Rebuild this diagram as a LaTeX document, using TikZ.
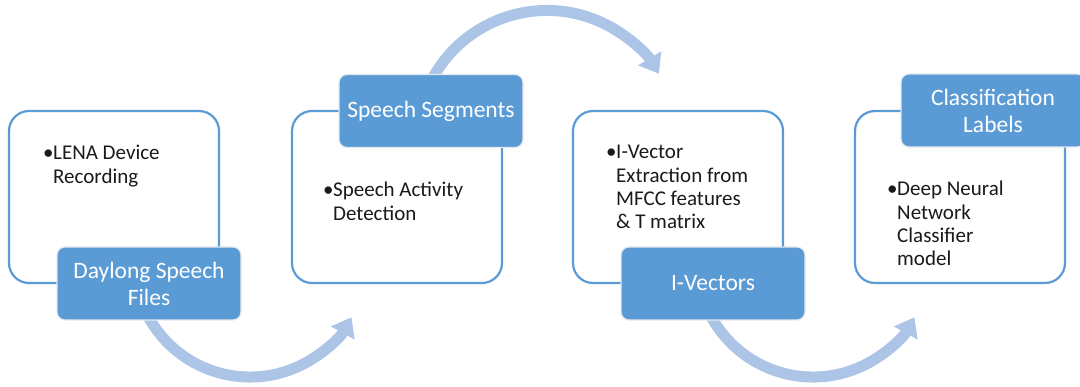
\documentclass[tikz,border=0pt]{standalone}
\usepackage{fontspec}
\setmainfont{Carlito}
\usetikzlibrary{arrows.meta}
\definecolor{boxblue}{RGB}{91,155,213}
\definecolor{arrowblue}{RGB}{172,197,230}
\definecolor{labelrim}{RGB}{228,232,238}
\definecolor{bodyink}{RGB}{26,26,26}
\tikzset{
  stagebox/.style={draw=boxblue, line width=2.2pt, fill=white, rounded corners=20pt,
    minimum width=210pt, minimum height=172pt, anchor=north west, inner sep=0pt, outer sep=0pt},
  tagbox/.style={draw=labelrim, line width=1.2pt, fill=boxblue, rounded corners=8pt,
    minimum width=184pt, minimum height=73pt, inner sep=0pt, outer sep=0pt, text=white,
    align=center, font=\fontsize{23.5}{27}\selectfont},
  bodytext/.style={anchor=base west, align=left, inner sep=0pt, text=bodyink,
    font=\fontsize{21}{23.3}\selectfont},
  flow/.style={draw=arrowblue, line width=11pt, -{Triangle[width=26pt,length=18pt]}},
}
\newcommand\bl{\makebox[10pt][l]{•}}
\newcommand\ind{\hspace*{10pt}}
\begin{document}
\begin{tikzpicture}[x=1pt,y=-1pt]
\useasboundingbox (0,0) rectangle (1080,387);
% stage boxes
\node[stagebox] (b1) at (9,111) {};
\node[stagebox] (b2) at (292,111) {};
\node[stagebox] (b3) at (573,111) {};
\node[stagebox] (b4) at (855,111) {};
% body texts (anchor = baseline of the last line)
\node[bodytext] (t1) at (43,183.3) {\bl LENA Device\\\ind Recording};
\node[bodytext] (t2) at (323,220.3) {\bl Speech Activity\\\ind Detection};
\node[bodytext] (t3) at (606,228.9) {\bl I-Vector\\\ind Extraction from\\\ind MFCC features\\\ind \& T matrix};
\node[bodytext] (t4) at (887,265.9) {\bl Deep Neural\\\ind Network\\\ind Classifier\\\ind model};
% curved arrows
\coordinate (a1s) at (147.6,315.5);
\coordinate (a2s) at (432.9,77.7);
\coordinate (a3s) at (710.6,315.5);
\draw[flow] (a1s) arc[start angle=152, end angle=29, radius=116];
\draw[flow] (a2s) arc[start angle=-151, end angle=-31, radius=130.5];
\draw[flow] (a3s) arc[start angle=152, end angle=29, radius=116];
% labels
\node[tagbox] (l1) at (149,283.5) {Daylong Speech\\Files};
\node[tagbox] (l2) at (431,111) {Speech Segments};
\node[tagbox] (l3) at (713,283.5) {I-Vectors};
\node[tagbox] (l4) at (993,110.5) {Classification\\Labels};
\end{tikzpicture}
\end{document}
